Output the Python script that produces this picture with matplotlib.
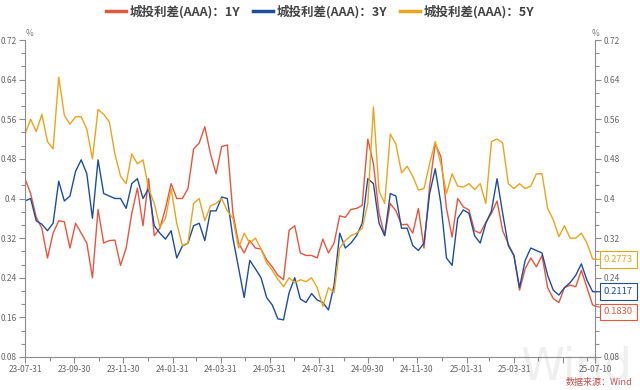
import matplotlib
matplotlib.use('Agg')
import matplotlib.pyplot as plt
from matplotlib.ticker import FixedLocator, AutoMinorLocator, FuncFormatter
from matplotlib.lines import Line2D
import pandas as pd

plt.rcParams['font.family'] = ['Noto Sans CJK SC', 'DejaVu Sans']

# ---------------- data ----------------
dates = list(pd.date_range('2023-07-31', '2025-07-07', freq='7D')) + [pd.Timestamp('2025-07-10')]

y1 = [0.44, 0.41, 0.362, 0.34, 0.28, 0.33, 0.355, 0.353, 0.30, 0.35,
      0.33, 0.31, 0.24, 0.378, 0.31, 0.315, 0.316, 0.265, 0.30, 0.37,
      0.421, 0.345, 0.44, 0.325, 0.34, 0.38, 0.43, 0.40, 0.40, 0.42,
      0.50, 0.512, 0.545, 0.49, 0.45, 0.505, 0.508, 0.37, 0.31, 0.29,
      0.315, 0.30, 0.298, 0.276, 0.262, 0.245, 0.236, 0.336, 0.345, 0.29,
      0.285, 0.285, 0.28, 0.318, 0.29, 0.31, 0.365, 0.362, 0.378, 0.38,
      0.386, 0.52, 0.47, 0.37, 0.325, 0.39, 0.375, 0.347, 0.348, 0.33,
      0.38, 0.30, 0.425, 0.51, 0.485, 0.38, 0.322, 0.40, 0.383, 0.377,
      0.335, 0.33, 0.352, 0.37, 0.395, 0.335, 0.308, 0.285, 0.215, 0.258,
      0.28, 0.262, 0.285, 0.22, 0.198, 0.19, 0.22, 0.225, 0.222, 0.255,
      0.22, 0.185, 0.1830]

y3 = [0.395, 0.40, 0.355, 0.348, 0.335, 0.35, 0.435, 0.395, 0.405, 0.455,
      0.478, 0.45, 0.36, 0.478, 0.41, 0.405, 0.40, 0.40, 0.38, 0.43,
      0.44, 0.40, 0.42, 0.345, 0.33, 0.318, 0.335, 0.28, 0.304, 0.31,
      0.345, 0.35, 0.315, 0.375, 0.375, 0.403, 0.40, 0.32, 0.26, 0.20,
      0.275, 0.258, 0.24, 0.20, 0.185, 0.157, 0.155, 0.21, 0.24, 0.197,
      0.19, 0.208, 0.195, 0.19, 0.175, 0.225, 0.33, 0.30, 0.31, 0.325,
      0.35, 0.44, 0.43, 0.35, 0.325, 0.41, 0.405, 0.34, 0.34, 0.305,
      0.295, 0.31, 0.41, 0.46, 0.39, 0.28, 0.265, 0.36, 0.377, 0.37,
      0.325, 0.31, 0.35, 0.375, 0.44, 0.37, 0.305, 0.285, 0.22, 0.275,
      0.30, 0.295, 0.29, 0.245, 0.215, 0.205, 0.22, 0.23, 0.245, 0.268,
      0.235, 0.212, 0.2117]

y5 = [0.53, 0.56, 0.535, 0.57, 0.515, 0.50, 0.645, 0.568, 0.55, 0.565,
      0.565, 0.54, 0.48, 0.58, 0.57, 0.555, 0.49, 0.445, 0.43, 0.49,
      0.47, 0.478, 0.42, 0.39, 0.342, 0.36, 0.42, 0.35, 0.305, 0.31,
      0.39, 0.40, 0.355, 0.385, 0.39, 0.40, 0.375, 0.36, 0.30, 0.33,
      0.31, 0.32, 0.298, 0.27, 0.255, 0.237, 0.222, 0.24, 0.23, 0.236,
      0.232, 0.24, 0.22, 0.182, 0.22, 0.21, 0.30, 0.315, 0.325, 0.33,
      0.34, 0.39, 0.585, 0.415, 0.39, 0.53, 0.51, 0.452, 0.465, 0.445,
      0.417, 0.42, 0.47, 0.515, 0.47, 0.41, 0.45, 0.425, 0.423, 0.43,
      0.418, 0.43, 0.39, 0.515, 0.52, 0.512, 0.43, 0.42, 0.43, 0.42,
      0.425, 0.45, 0.45, 0.38, 0.357, 0.323, 0.345, 0.32, 0.32, 0.33,
      0.31, 0.278, 0.2773]

series_names = ['城投利差(AAA)：1Y', '城投利差(AAA)：3Y', '城投利差(AAA)：5Y']
yticks = [0.08, 0.16, 0.24, 0.32, 0.40, 0.48, 0.56, 0.64, 0.72]
xtick_dates = ['2023-07-31', '2023-09-30', '2023-11-30', '2024-01-31', '2024-03-31',
               '2024-05-31', '2024-07-31', '2024-09-30', '2024-11-30', '2025-01-31',
               '2025-03-31', '2025-05-31', '2025-07-10']
xtick_labels = ['23-07-31', '23-09-30', '23-11-30', '24-01-31', '24-03-31',
                '24-05-31', '24-07-31', '24-09-30', '24-11-30', '25-01-31',
                '25-03-31', '', '25-07-10']

colors = ['#E8553E', '#1D4E9E', '#EBA41C']

# ---------------- figure ----------------
fig = plt.figure(figsize=(6.4, 3.9), dpi=100)

# faint watermark behind everything
fig.text(632 / 640, 1 - 367 / 390, 'Wind', fontsize=32, color='#efefef', ha='right',
         va='center', zorder=-5, family='DejaVu Sans')

ax = fig.add_axes([25 / 640, 1 - 357 / 390, 570 / 640, 317 / 390])
ax.patch.set_alpha(0)

for ys, c in zip([y1, y3, y5], colors):
    ax.plot(dates, ys, color=c, lw=1.0, solid_joinstyle='round')

ax.set_xlim(pd.Timestamp('2023-07-31'), pd.Timestamp('2025-07-10'))
ax.set_ylim(0.08, 0.72)

gray = '#8c8c8c'
for s in ['left', 'right', 'bottom']:
    ax.spines[s].set_color(gray)
    ax.spines[s].set_linewidth(0.8)
ax.spines['top'].set_visible(False)

ax.yaxis.set_major_locator(FixedLocator(yticks))
ax.yaxis.set_minor_locator(AutoMinorLocator(3))
ax.yaxis.set_major_formatter(FuncFormatter(lambda v, p: ('%.2f' % v).rstrip('0')))

xmaj = [pd.Timestamp(d) for d in xtick_dates]
ax.set_xticks(xmaj)
ax.set_xticklabels(xtick_labels)
xmin = [d for d in pd.date_range('2023-08-01', '2025-07-10', freq='ME') if d not in xmaj]
ax.set_xticks(xmin, minor=True)

ax.tick_params(axis='y', which='both', left=True, right=True, labelleft=True,
               labelright=True, direction='out', color=gray, width=0.8)
ax.tick_params(axis='x', which='both', direction='out', color=gray, width=0.8)
ax.tick_params(which='major', length=4, labelsize=6, labelcolor='#666666', pad=2)
ax.tick_params(which='minor', length=3)

fig.text(29 / 640, 1 - 33 / 390, '%', fontsize=6, color='#777777', ha='center', va='center')
fig.text(596 / 640, 1 - 33 / 390, '%', fontsize=6, color='#777777', ha='center', va='center')

handles = [Line2D([0], [0], color=c, lw=2.5) for c in colors]
leg = fig.legend(handles, series_names, loc='center', bbox_to_anchor=(0.5, 1 - 12 / 390),
                 ncol=3, frameon=False, fontsize=9, handlelength=1.6,
                 handletextpad=0.3, columnspacing=1.0)
for t in leg.get_texts():
    t.set_color('#444444')
    t.set_fontweight('bold')

# end-value labels (box offsets in pixels, positive = up)
last_vals = [y1[-1], y3[-1], y5[-1]]
box_dy = [-6, 0, 0]
for v, c, dy in zip(last_vals, colors, box_dy):
    ax.annotate('%.4f' % v, xy=(dates[-1], v), xytext=(9, dy), textcoords='offset pixels',
                ha='left', va='center', fontsize=6.8, color=c, annotation_clip=False,
                bbox=dict(boxstyle='square,pad=0.4', fc='white', ec=c, lw=0.8),
                arrowprops=dict(arrowstyle='-', color=c, lw=0.8, shrinkA=0, shrinkB=0))

fig.text(632 / 640, 1 - 383 / 390, '数据来源：Wind', fontsize=6.5, color='#C0504D',
         ha='right', va='center')

fig.savefig('out.png', dpi=100)
